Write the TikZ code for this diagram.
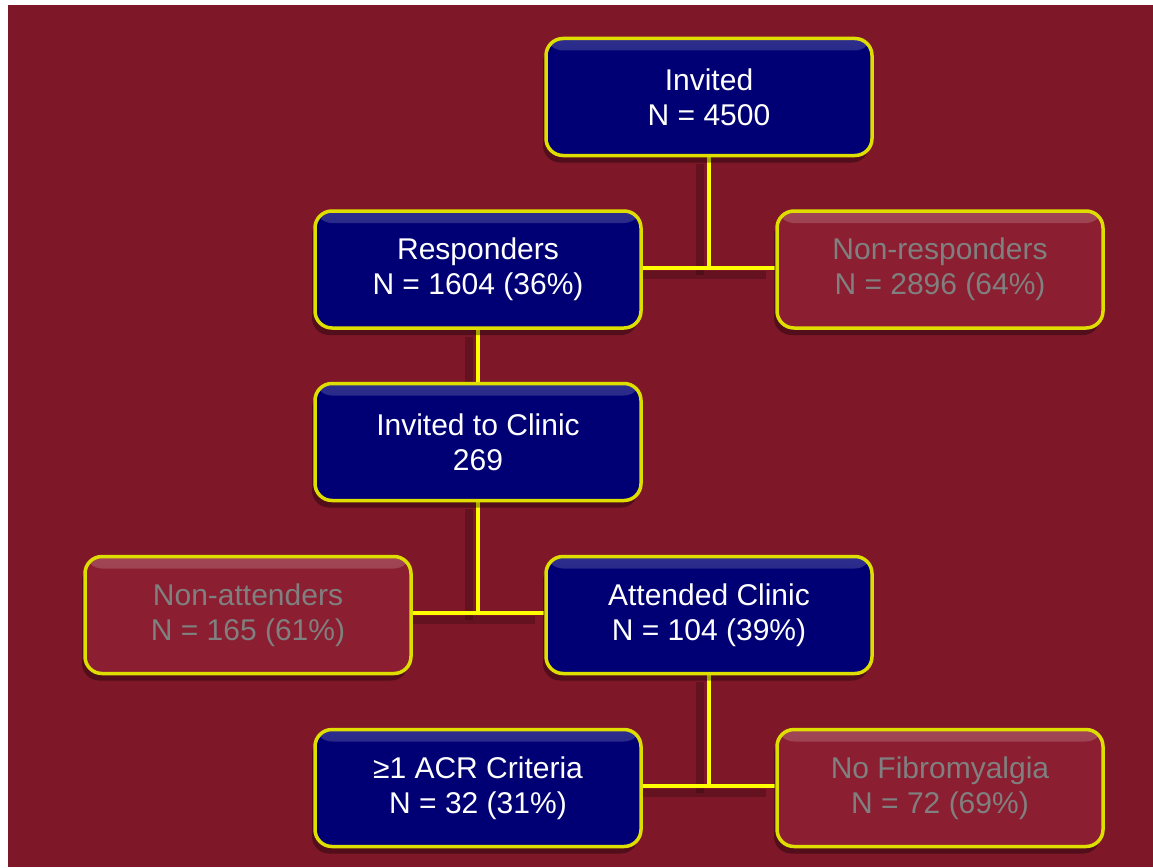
\documentclass[tikz,border=0pt]{standalone}
\usepackage{fontspec}
\setmainfont{Liberation Sans}
\usetikzlibrary{shadows,backgrounds}
\definecolor{cfond}{RGB}{126,23,40}
\definecolor{cbleu}{RGB}{0,0,116}
\definecolor{crouge}{RGB}{139,30,48}
\definecolor{cgris}{RGB}{128,128,128}
\definecolor{cjaune}{RGB}{255,255,0}
\definecolor{cbord}{RGB}{222,222,0}

\begin{document}
\begin{tikzpicture}[x=1pt, y=-1pt,
  box/.style={rounded corners=17pt, minimum width=326pt, minimum height=117pt,
    draw=cbord, line width=3.5pt, align=center,
    font=\fontsize{30}{35}\selectfont,
    drop shadow={shadow xshift=-3pt, shadow yshift=-7pt, fill=black, opacity=.35}},
  oui/.style={box, fill=cbleu, text=white,
    path picture={\shade[top color=cbleu!82!white, bottom color=cbleu]
      (path picture bounding box.north west) rectangle
      ([yshift=-12pt]path picture bounding box.north east);}},
  non/.style={box, fill=crouge, text=cgris,
    path picture={\shade[top color=crouge!82!white, bottom color=crouge]
      (path picture bounding box.north west) rectangle
      ([yshift=-12pt]path picture bounding box.north east);}},
  link/.style={cjaune, line width=4pt,
    preaction={draw=black, opacity=.2, line width=8pt,
      transform canvas={xshift=-9pt, yshift=-7pt}}}]
\useasboundingbox (0,0) rectangle (1153,867);
\begin{scope}[on background layer]
\fill[cfond] (8,5) rectangle (1153,867);
\end{scope}
\coordinate (c1) at (709,268);
\coordinate (c2) at (478,613);
\coordinate (c3) at (709,786);
\node[oui] (invited) at (709,97) {Invited\\N = 4500};
\node[oui] (resp) at (478,269.5) {Responders\\N = 1604 (36\%)};
\node[non] (nonresp) at (940,269.5) {Non-responders\\N = 2896 (64\%)};
\node[oui] (clinic) at (478,442) {Invited to Clinic\\269};
\node[non] (nonatt) at (248,615) {Non-attenders\\N = 165 (61\%)};
\node[oui] (att) at (709,615) {Attended Clinic\\N = 104 (39\%)};
\node[oui] (acr) at (478,788) {≥1 ACR Criteria\\N = 32 (31\%)};
\node[non] (nofib) at (940,788) {No Fibromyalgia\\N = 72 (69\%)};
% les liens, sous les boites
\begin{scope}[on background layer]
\draw[link] (invited.south) -- (c1);
\draw[link] (resp.east |- c1) -- (nonresp.west |- c1);
\draw[link] (resp.south) -- (clinic.north);
\draw[link] (clinic.south) -- (c2);
\draw[link] (nonatt.east |- c2) -- (att.west |- c2);
\draw[link] (att.south) -- (c3);
\draw[link] (acr.east |- c3) -- (nofib.west |- c3);
\end{scope}
\end{tikzpicture}
\end{document}
